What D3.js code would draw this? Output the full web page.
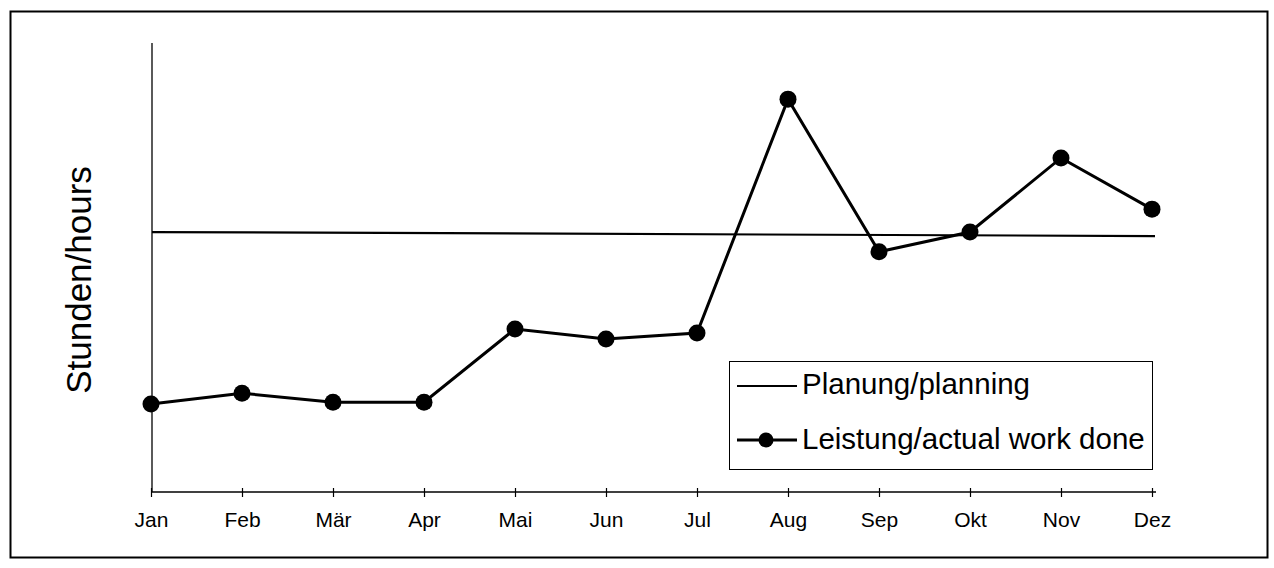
<!DOCTYPE html>
<html>
<head>
<meta charset="utf-8">
<script src="https://cdn.jsdelivr.net/npm/d3@7"></script>
<style>
  html, body { margin: 0; padding: 0; background: #fff; }
  svg { display: block; font-family: Arial, "Liberation Sans", Helvetica, sans-serif; }
</style>
</head>
<body>
<svg id="chart" width="1274" height="568"></svg>
<script>
// ---- data ----
const months = ["Jan","Feb","Mär","Apr","Mai","Jun","Jul","Aug","Sep","Okt","Nov","Dez"];
const actual = [19.6, 22.0, 20.0, 20.0, 36.3, 34.1, 35.4, 87.5, 53.5, 57.9, 74.4, 63.0];
const planningMonths = ["Jan", "Dez"];
const planning = [57.9, 57.0];
const yLabel = "Stunden/hours";
const legendLabels = ["Planung/planning", "Leistung/actual work done"];

// ---- layout ----
const svg = d3.select("#chart");
const plotLeft = 152, plotRight = 1155, plotTop = 43, plotBottom = 492;

const x = d3.scalePoint().domain(months).range([151, 1152]);
const y = d3.scaleLinear().domain([0, 100]).range([plotBottom, plotTop]);

// outer frame
svg.append("rect")
  .attr("x", 10.5).attr("y", 11.5).attr("width", 1257).attr("height", 546)
  .attr("fill", "none").attr("stroke", "#000").attr("stroke-width", 2);

// y axis (no ticks)
svg.append("line")
  .attr("x1", plotLeft).attr("x2", plotLeft).attr("y1", plotTop).attr("y2", plotBottom)
  .attr("stroke", "#000").attr("stroke-width", 1.3);

// x axis
const xAxis = d3.axisBottom(x).tickSize(0).tickPadding(0);
const gx = svg.append("g").attr("transform", `translate(0,${plotBottom})`).call(xAxis);
gx.select(".domain").remove();
gx.append("line").attr("x1", plotLeft).attr("x2", plotRight + 1).attr("y1", 0).attr("y2", 0)
  .attr("stroke", "#000").attr("stroke-width", 1.3);
gx.selectAll(".tick").append("line")
  .attr("y1", -4).attr("y2", 5).attr("stroke", "#000").attr("stroke-width", 1.2);
gx.selectAll(".tick text")
  .attr("y", 35).attr("dy", null)
  .attr("fill", "#000")
  .style("font-size", "21px")
  .style("font-family", "Arial, 'Liberation Sans', sans-serif");

// y label
svg.append("text")
  .attr("transform", `translate(91,280) rotate(-90)`)
  .attr("text-anchor", "middle")
  .style("font-size", "35px")
  .attr("fill", "#000")
  .text(yLabel);

// planning line
const planData = planningMonths.map((m, i) => ({ m, v: planning[i] }));
svg.append("path")
  .datum(planData)
  .attr("fill", "none").attr("stroke", "#000").attr("stroke-width", 2.2)
  .attr("d", d3.line().x((d, i) => i === 0 ? plotLeft : plotRight).y(d => y(d.v)));

// actual line
const actData = months.map((m, i) => ({ m, v: actual[i] }));
svg.append("path")
  .datum(actData)
  .attr("fill", "none").attr("stroke", "#000").attr("stroke-width", 3)
  .attr("stroke-linejoin", "miter")
  .attr("d", d3.line().x(d => x(d.m)).y(d => y(d.v)));

svg.append("g").selectAll("circle")
  .data(actData).join("circle")
  .attr("cx", d => x(d.m)).attr("cy", d => y(d.v)).attr("r", 8.5)
  .attr("fill", "#000");

// legend
const lg = svg.append("g");
lg.append("rect")
  .attr("x", 729.5).attr("y", 361.5).attr("width", 423).attr("height", 108)
  .attr("fill", "#fff").attr("stroke", "#000").attr("stroke-width", 1);
lg.append("line").attr("x1", 737).attr("x2", 797).attr("y1", 386).attr("y2", 386)
  .attr("stroke", "#000").attr("stroke-width", 1.8);
lg.append("text").attr("x", 802).attr("y", 394)
  .style("font-size", "29.5px").attr("fill", "#000").text(legendLabels[0]);
lg.append("line").attr("x1", 737).attr("x2", 797).attr("y1", 440).attr("y2", 440)
  .attr("stroke", "#000").attr("stroke-width", 3);
lg.append("circle").attr("cx", 766).attr("cy", 440).attr("r", 7.5).attr("fill", "#000");
lg.append("text").attr("x", 802).attr("y", 449)
  .style("font-size", "29.5px").attr("fill", "#000").text(legendLabels[1]);
</script>
</body>
</html>
